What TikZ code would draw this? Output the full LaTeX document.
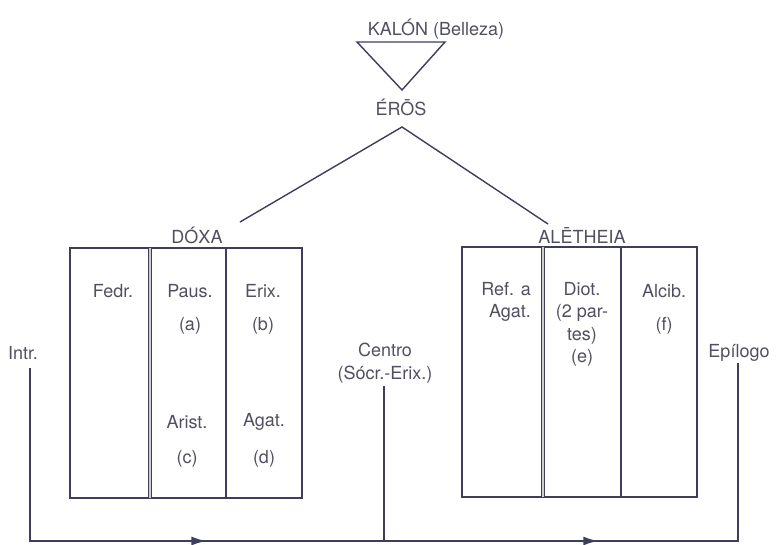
\documentclass[tikz,border=0pt]{standalone}
\usepackage{fontspec}
\setmainfont{TeX Gyre Heros}
\usetikzlibrary{arrows.meta,decorations.markings}
\definecolor{ink}{RGB}{62,62,92}
\definecolor{txt}{RGB}{80,80,96}
\tikzset{
  lbl/.style={inner sep=0pt, text=txt, font=\fontsize{18}{22.5}\selectfont, align=center},
  ln/.style={draw=ink, line width=1.4pt},
  boxln/.style={draw=ink, line width=1.8pt},
  dbl/.style={draw=ink, line width=1.2pt, double=gray!40, double distance=1.6pt},
  flow/.style={draw=ink, line width=2pt, postaction={decorate},
    decoration={markings,
      mark=at position 0.33 with {\arrow{Latex[length=15pt,width=9pt]}},
      mark=at position 0.70 with {\arrow{Latex[length=15pt,width=9pt]}}}}
}
\begin{document}
\begin{tikzpicture}[x=1pt,y=-1pt]
\useasboundingbox (0,0) rectangle (776,544);
% top
\node[lbl, anchor=base] (kalon) at (436,35) {KALÓN (Belleza)};
\coordinate (tl) at (357,42);
\coordinate (tr) at (445,42);
\coordinate (tb) at (402,90);
\draw[ln, line join=miter] (tl) -- (tr) -- (tb) -- cycle;
\node[lbl, anchor=base] (eros) at (401,115) {ÉRŌS};
\coordinate (apex) at (402,127);
\coordinate (lend) at (240,222);
\coordinate (rend) at (548,224);
\draw[ln] (lend) -- (apex) -- (rend);
% DOXA
\node[lbl, anchor=base] (doxa) at (197,243) {DÓXA};
\draw[boxln] (70,248) rectangle (302,498);
\draw[dbl] (150,248) -- (150,498);
\draw[ln] (226,248) -- (226,498);
\node[lbl] (fedr) at (113,291) {Fedr.};
\node[lbl] (paus) at (190,291) {Paus.};
\node[lbl] (a) at (190,326) {(a)};
\node[lbl] (erix) at (263,291) {Erix.};
\node[lbl] (b) at (263,326) {(b)};
\node[lbl] (arist) at (187,422) {Arist.};
\node[lbl] (c) at (187,459) {(c)};
\node[lbl] (agat) at (264,422) {Agat.};
\node[lbl] (d) at (264,459) {(d)};
% ALETHEIA
\node[lbl, anchor=base] (aletheia) at (582,243) {ALĒTHEIA};
\draw[boxln] (462,247) rectangle (697,497);
\draw[dbl] (543,247) -- (543,497);
\draw[ln] (621,247) -- (621,497);
\node[lbl, align=right, anchor=north east] (ref) at (531,282) {Ref. a\\Agat.};
\node[lbl, anchor=north] (diot) at (582,282) {Diot.\\(2 par-\\tes)\\(e)};
\node[lbl] (alcib) at (664,291) {Alcib.};
\node[lbl] (f) at (664,326) {(f)};
% bottom
\node[lbl] (intr) at (23,353) {Intr.};
\node[lbl] (epi) at (739,353) {Epílogo};
\node[lbl] (centro) at (385,363) {Centro\\(Sócr.-Erix.)};
\coordinate (i1) at (30,368);
\coordinate (i2) at (30,541);
\coordinate (e2) at (738,541);
\coordinate (e1) at (738,363);
\coordinate (c1) at (384,386);
\coordinate (c2) at (384,541);
\draw[flow, line join=miter] (i1) -- (i2) -- (e2) -- (e1);
\draw[ln, line width=1.8pt] (c1) -- (c2);
\end{tikzpicture}
\end{document}
